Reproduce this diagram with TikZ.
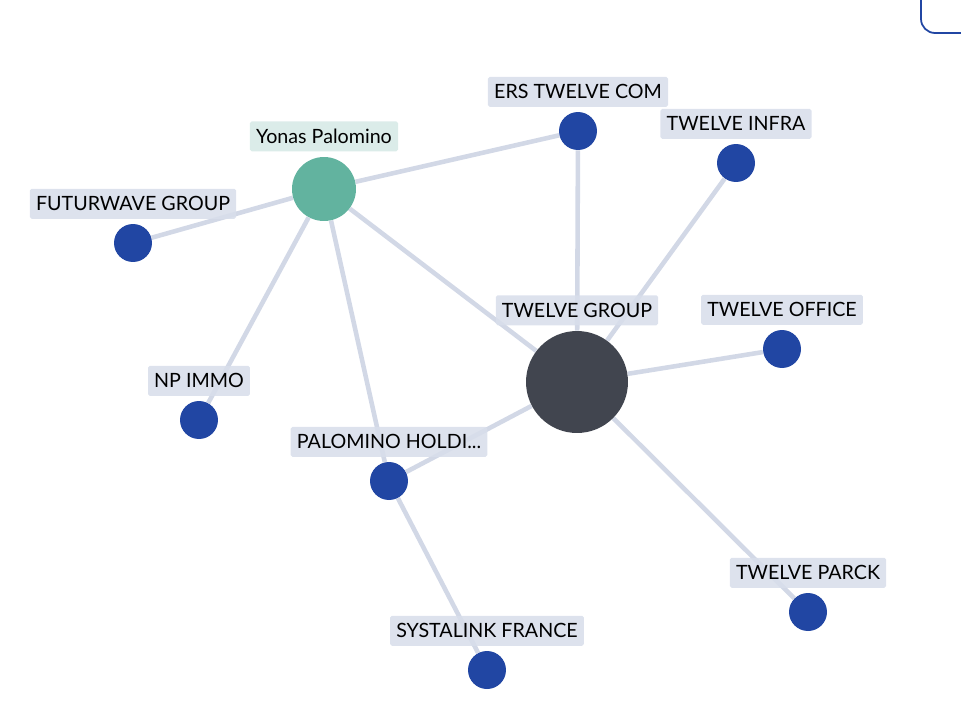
\documentclass[tikz,border=0pt]{standalone}
\usepackage{fontspec}
\setmainfont{Lato}
\usepackage{xcolor}
\usepackage{tikz}
\usetikzlibrary{positioning, backgrounds}

\definecolor{entblue}{HTML}{2146A3}
\definecolor{personteal}{HTML}{62B39F}
\definecolor{groupdark}{HTML}{41454F}
\definecolor{linkgray}{HTML}{D2D8E6}
\definecolor{lblfill}{HTML}{D8DEEB}
\definecolor{lblteal}{HTML}{D6E9E6}

\begin{document}
\begin{tikzpicture}[x=0.02cm, y=-0.02cm,
    ent/.style={circle, fill=entblue, minimum size=0.76cm, inner sep=0pt},
    person/.style={circle, fill=personteal, minimum size=1.28cm, inner sep=0pt},
    hub/.style={circle, fill=groupdark, minimum size=2.04cm, inner sep=0pt},
    lbl/.style={rectangle, rounded corners=1pt, fill=lblfill, fill opacity=0.88, text opacity=1,
        text=black, font=\fontsize{11.2}{13}\selectfont, inner xsep=3.5pt, inner ysep=0pt,
        minimum height=0.6cm},
    link/.style={draw=linkgray, line width=2.6pt}]
            \useasboundingbox (0,0) rectangle (961,727);
            \clip (0,0) rectangle (961,727);
            % corner of a panel
            \draw[entblue, line width=1pt, rounded corners=8pt] (921,-20) -- (921,33) -- (990,33);
            % nodes
            \node[person] (yonas) at (324,189) {};
            \node[ent] (ers) at (578,131) {};
            \node[ent] (infra) at (736,163) {};
            \node[ent] (futur) at (133,243) {};
            \node[hub] (group) at (577,382) {};
            \node[ent] (office) at (782,349) {};
            \node[ent] (npimmo) at (199,420) {};
            \node[ent] (holding) at (389,481) {};
            \node[ent] (parck) at (808,612) {};
            \node[ent] (systa) at (487,670) {};
            % links
            \begin{scope}[on background layer]
                \draw[link] (yonas) -- (futur);
                \draw[link] (yonas) -- (ers);
                \draw[link] (yonas) -- (npimmo);
                \draw[link] (yonas) -- (holding);
                \draw[link] (yonas) -- (group);
                \draw[link] (ers) -- (group);
                \draw[link] (infra) -- (group);
                \draw[link] (office) -- (group);
                \draw[link] (parck) -- (group);
                \draw[link] (holding) -- (group);
                \draw[link] (holding) -- (systa);
            \end{scope}
            % labels
            \node[lbl, fill=lblteal, above=0.1cm of yonas] (yonaslbl) {Yonas Palomino};
            \node[lbl, above=0.09cm of ers] (erslbl) {ERS TWELVE COM};
            \node[lbl, above=0.09cm of infra] (infralbl) {TWELVE INFRA};
            \node[lbl, above=0.09cm of futur] (futurlbl) {FUTURWAVE GROUP};
            \node[lbl, above=0.1cm of group] (grouplbl) {TWELVE GROUP};
            \node[lbl, above=0.09cm of office] (officelbl) {TWELVE OFFICE};
            \node[lbl, above=0.09cm of npimmo] (npimmolbl) {NP IMMO};
            \node[lbl, above=0.09cm of holding] (holdinglbl) {PALOMINO HOLDI...};
            \node[lbl, above=0.09cm of parck] (parcklbl) {TWELVE PARCK};
            \node[lbl, above=0.09cm of systa] (systalbl) {SYSTALINK FRANCE};
        \end{tikzpicture}
\end{document}
